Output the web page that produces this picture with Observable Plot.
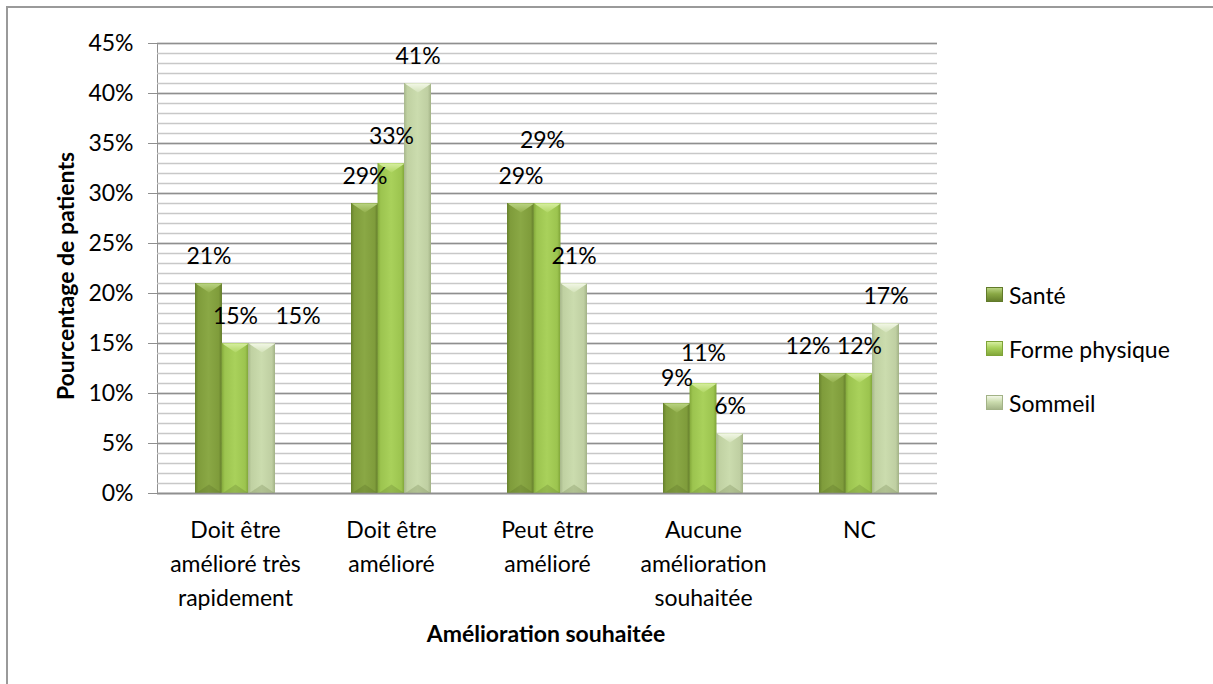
<!DOCTYPE html>
<html>
<head>
<meta charset="utf-8">
<script src="https://cdn.jsdelivr.net/npm/d3@7"></script>
<script src="https://cdn.jsdelivr.net/npm/@observablehq/plot@0.6"></script>
<style>
html, body { margin: 0; padding: 0; background: #fff; }
#wrap { position: relative; width: 1213px; height: 684px; overflow: hidden; font-family: Lato, "Open Sans", sans-serif; color: #000; }
#wrap svg text { fill: #000; }
#frame { position: absolute; left: 6px; top: 6px; width: 1400px; height: 900px; border-left: 2px solid #9a9a9a; border-top: 2px solid #9a9a9a; pointer-events: none; }
.title { position: absolute; font-weight: bold; font-size: 23px; white-space: nowrap; }
#ytitle { left: 65px; top: 276px; transform: translate(-50%, -50%) rotate(-90deg); }
#xtitle { left: 546px; top: 633px; transform: translate(-50%, -50%); }
#legend { position: absolute; left: 986px; top: 281px; font-size: 23px; }
.lrow { display: flex; align-items: center; height: 27px; margin-bottom: 27px; white-space: nowrap; }
.sw { width: 15px; height: 13px; margin-right: 6px; position: relative; top: 0px; }
</style>
</head>
<body>
<div id="wrap">
  <div id="chart"></div>
  <div class="title" id="ytitle">Pourcentage de patients</div>
  <div class="title" id="xtitle">Amélioration souhaitée</div>
  <div id="legend"></div>
  <div id="frame"></div>
</div>
<script>
// ---- data ----
const categories = ["Doit être amélioré très rapidement", "Doit être amélioré", "Peut être amélioré", "Aucune amélioration souhaitée", "NC"];
const categoryLabels = ["Doit être\namélioré très\nrapidement", "Doit être\namélioré", "Peut être\namélioré", "Aucune\namélioration\nsouhaitée", "NC"];
const seriesNames = ["Santé", "Forme physique", "Sommeil"];
const sante = [21, 29, 29, 9, 12];
const formePhysique = [15, 33, 29, 11, 12];
const sommeil = [15, 41, 21, 6, 17];
const yMajorTicks = [0, 5, 10, 15, 20, 25, 30, 35, 40, 45];
const yMinorTicks = d3.range(0, 46, 1);

// ---- styles / layout ----
const W = 1213, H = 684;
const mL = 157, mR = 276, mT = 43, mB = 191;
const pInner = 0.49, pOuter = 0.245;
const step = (W - mL - mR) / (categories.length - pInner + 2 * pOuter);
const bw = step * (1 - pInner);
const sub = bw / 3;
const fontSize = 23;
const labelDy = -27;
// Excel label displacements (series index, category index) -> [dx, dy]
const labelNudges = [
  {s: 2, c: 0, dx: 36, dy: 0},
  {s: 1, c: 2, dx: -5, dy: -36},
  {s: 0, c: 3, dx: 0, dy: 2},
  {s: 1, c: 3, dx: 0, dy: -3},
  {s: 0, c: 4, dx: -25, dy: 0}
];

const seriesValues = [sante, formePhysique, sommeil];
const seriesData = seriesValues.map((vals, s) =>
  categories.map((c, i) => ({category: c, value: vals[i], series: seriesNames[s], s, c: i})));
const isNudged = d => labelNudges.some(n => n.s === d.s && n.c === d.c);
const catRows = categories.map((c, i) => ({category: c, label: categoryLabels[i]}));

const halfW = sub / 2;
const chevTop = {draw(ctx) { ctx.moveTo(-halfW, 0); ctx.lineTo(halfW, 0); ctx.lineTo(0, 9); ctx.closePath(); }};
const chevBot = {draw(ctx) { ctx.moveTo(-halfW, 0); ctx.lineTo(halfW, 0); ctx.lineTo(0, -9); ctx.closePath(); }};

const barGrad = [
  ["#66802c", "#7f9c3b", "#8aa845", "#7f9c3b", "#617a2a"],
  ["#83a83a", "#9cc44f", "#a9d15b", "#9cc44f", "#7ea337"],
  ["#a6b68a", "#c0d1a2", "#cbdcae", "#bfcfa2", "#a2b286"]
];
const topGrad = [["#b9d382", "#93b04d"], ["#d6ee9f", "#b0d664"], ["#f2f7e6", "#d3e2b9"]];

const marks = [
  Plot.ruleY(yMinorTicks, {stroke: "#c8c8c8", strokeWidth: 1.5}),
  Plot.ruleY(yMajorTicks, {stroke: "#8f8f8f", strokeWidth: 1.5})
];
seriesData.forEach((data, s) => {
  marks.push(Plot.barY(data, {x: "category", y: "value", fill: `url(#bar${s})`,
    insetLeft: s * sub, insetRight: (2 - s) * sub}));
  marks.push(Plot.dot(data, {x: "category", y: "value", symbol: chevTop, fill: `url(#top${s})`, stroke: "none", dx: (s - 1) * sub}));
  marks.push(Plot.dot(data, {x: "category", y: () => 0, symbol: chevBot, fill: "#3d4f18", fillOpacity: 0.18, stroke: "none", dx: (s - 1) * sub}));
});
marks.push(Plot.ruleY([0], {stroke: "#8f8f8f", strokeWidth: 1.5}));
seriesData.forEach((data, s) => {
  marks.push(Plot.text(data.filter(d => !isNudged(d)), {x: "category", y: "value", text: d => d.value + "%",
    dx: (s - 1) * sub, dy: labelDy, fontSize}));
});
labelNudges.forEach(n => {
  marks.push(Plot.text(seriesData[n.s].filter(d => d.c === n.c), {x: "category", y: "value", text: d => d.value + "%",
    dx: (n.s - 1) * sub + n.dx, dy: labelDy + n.dy, fontSize}));
});
marks.push(Plot.text(catRows, {x: "category", text: "label", frameAnchor: "bottom", lineAnchor: "top",
  dy: 21, lineHeight: 1.46, fontSize}));

const chart = Plot.plot({
  width: W, height: H,
  marginLeft: mL, marginRight: mR, marginTop: mT, marginBottom: mB,
  style: {fontFamily: "Lato, 'Open Sans', sans-serif", fontSize: fontSize + "px", color: "#8f8f8f", background: "transparent", overflow: "visible"},
  x: {type: "band", domain: categories, paddingInner: pInner, paddingOuter: pOuter, axis: null},
  y: {domain: [0, 45], ticks: yMajorTicks, tickFormat: d => d + "%", tickSize: 9, tickPadding: 15, label: null, line: true},
  marks
});

// gradient definitions
const ns = "http://www.w3.org/2000/svg";
const defs = document.createElementNS(ns, "defs");
function grad(id, stops, vertical) {
  const g = document.createElementNS(ns, "linearGradient");
  g.setAttribute("id", id);
  g.setAttribute("x1", "0"); g.setAttribute("y1", "0");
  g.setAttribute("x2", vertical ? "0" : "1"); g.setAttribute("y2", vertical ? "1" : "0");
  stops.forEach((c, i) => {
    const st = document.createElementNS(ns, "stop");
    const offs = stops.length === 5 ? [0, 0.12, 0.5, 0.88, 1] : [0, 1];
    st.setAttribute("offset", offs[i]);
    st.setAttribute("stop-color", c);
    g.appendChild(st);
  });
  defs.appendChild(g);
}
barGrad.forEach((st, s) => grad(`bar${s}`, st, false));
topGrad.forEach((st, s) => grad(`top${s}`, st, true));
chart.insertBefore(defs, chart.firstChild);
document.getElementById("chart").appendChild(chart);

// legend
const legend = document.getElementById("legend");
seriesNames.forEach((name, s) => {
  const row = document.createElement("div");
  row.className = "lrow";
  const sw = document.createElement("div");
  sw.className = "sw";
  const g = barGrad[s];
  sw.style.background = `linear-gradient(180deg, ${topGrad[s][0]} 0%, ${g[2]} 45%, ${g[0]} 100%)`;
  sw.style.border = `1px solid ${g[4]}`;
  const t = document.createElement("span");
  t.textContent = name;
  row.appendChild(sw); row.appendChild(t);
  legend.appendChild(row);
});
</script>
</body>
</html>
